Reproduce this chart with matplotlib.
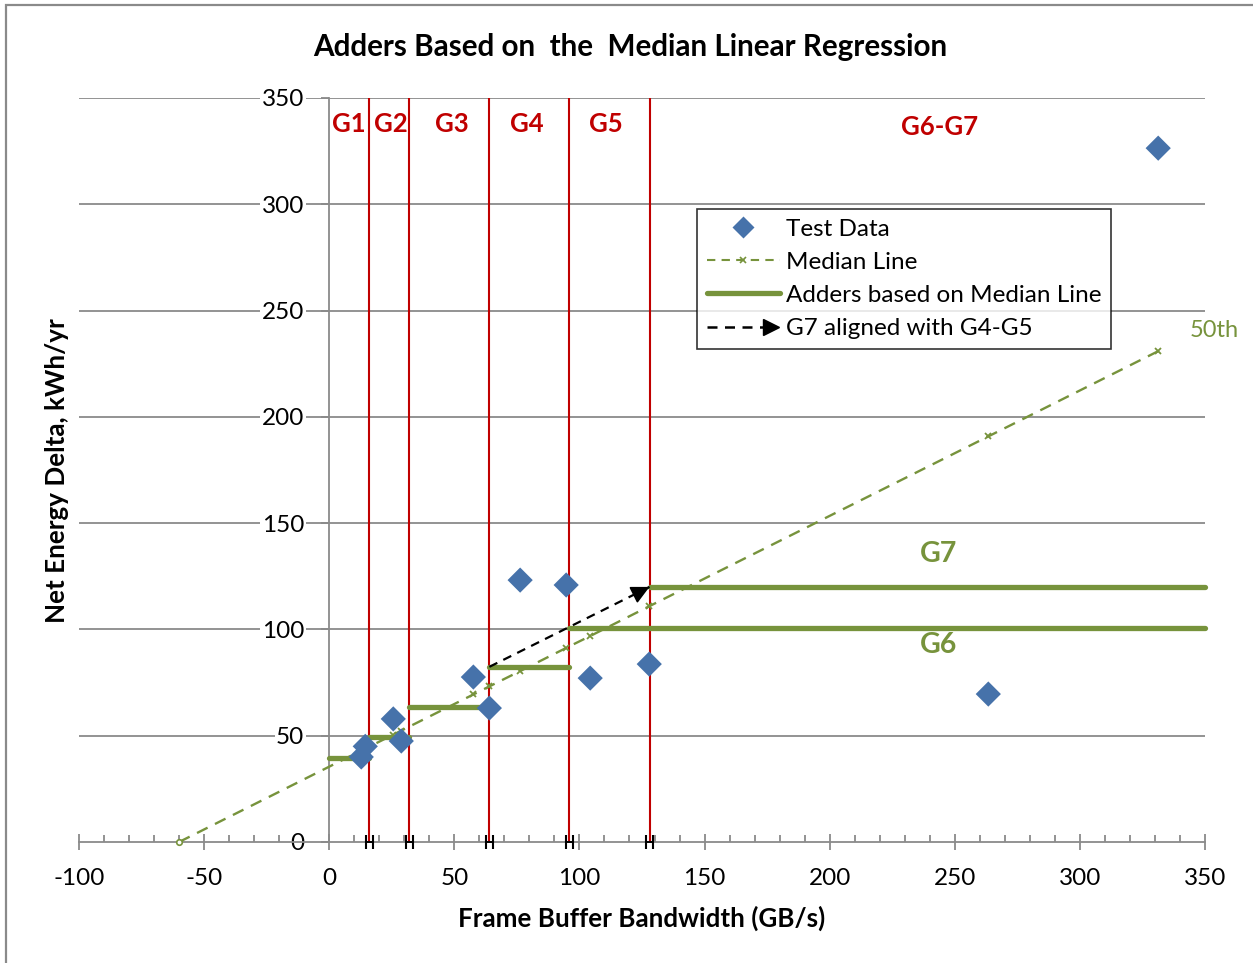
import matplotlib.pyplot as plt
from matplotlib.lines import Line2D
from matplotlib.legend_handler import HandlerBase
from matplotlib.patches import Rectangle
from matplotlib.ticker import MultipleLocator

plt.rcParams['font.family'] = ['Lato', 'DejaVu Sans']
plt.rcParams['axes.unicode_minus'] = False

# test data (GB/s, kWh/yr)
test_x = [12.8, 14.4, 25.6, 28.8, 57.6, 64.0, 76.3, 94.7, 104.3, 127.9, 263.4, 331.3]
test_y = [40.0, 45.0, 57.9, 47.5, 77.6, 63.0, 123.2, 120.9, 77.1, 83.7, 69.6, 326.4]

# median regression line at the test data x values
median_x = [-60.0, 12.8, 14.4, 25.6, 28.8, 57.6, 64.0, 76.3, 94.7, 104.3, 127.9, 263.4, 331.3]
median_y = [0.0, 43.0, 43.9, 50.5, 52.4, 69.4, 73.2, 80.4, 91.3, 96.9, 110.9, 190.8, 230.9]

# adders per group
adder_start = [0, 16, 32, 64, 96, 128]
adder_end = [16, 32, 64, 96, 350, 350]
adder_val = [39.5, 49.2, 63.3, 82.4, 100.8, 120.0]

# G7 aligned with G4-G5
arrow_x = [64, 128]
arrow_y = [82.4, 120.0]

# group boundaries and labels
bounds = [16, 32, 64, 96, 128]
group_names = ['G1', 'G2', 'G3', 'G4', 'G5', 'G6-G7']
group_x = [8, 24.5, 49, 79, 110.5, 244]
group_y = [338, 338, 338, 338, 338, 336.5]

blue = '#4672AA'
green = '#77933C'
red = '#C00000'
gray = '#8A8A8A'


class ArrowHandler(HandlerBase):
    def create_artists(self, legend, orig_handle, xdescent, ydescent,
                       width, height, fontsize, trans):
        y = height / 2 - ydescent
        x0 = -xdescent
        x1 = width - xdescent
        line = Line2D([x0, x1 - 10], [y, y], color='black', ls=(0, (4, 3)),
                      lw=1.8, transform=trans)
        head = Line2D([x1 - 6], [y], marker='>', color='black', ms=11,
                      ls='none', transform=trans)
        return [line, head]


fig = plt.figure(figsize=(12.53, 9.63), dpi=100)
ax = fig.add_axes([0.06305, 0.12565, 0.89864, 0.77259])

# outer chart border
fig.patches.append(Rectangle((6 / 1253, -0.1), 1.2, 0.1 + 958 / 963, transform=fig.transFigure,
                             fill=False, edgecolor=gray, lw=1.6))

ax.set_xlim(-100, 350)
ax.set_ylim(0, 350)

for y in range(50, 351, 50):
    ax.axhline(y, color=gray, lw=1.3, zorder=1)

for b in bounds:
    ax.plot([b, b], [0, 350], color=red, lw=1.5, zorder=2)

ax.errorbar(bounds, [0] * len(bounds), xerr=1.3, fmt='none', ecolor='black',
            elinewidth=1.4, capsize=5, capthick=1.5, zorder=4, clip_on=False)

ax.plot(median_x, median_y, color=green, ls=(0, (5, 3.5)), lw=1.7, marker='x',
        ms=4.5, mew=1.3, markevery=list(range(1, len(median_x))), zorder=3)
ax.plot(median_x[:1], median_y[:1], ls='none', marker='o', ms=4, mfc='white',
        mec=green, mew=1.2, zorder=3, clip_on=False)

for s, e, v in zip(adder_start, adder_end, adder_val):
    ax.plot([s, e], [v, v], color=green, lw=3.8, solid_capstyle='round',
            zorder=3, clip_on=False)

ax.plot(arrow_x, arrow_y, color='black', ls=(0, (4, 3)), lw=1.6, zorder=4)
ax.annotate('', xy=(arrow_x[1], arrow_y[1]),
            xytext=(arrow_x[1] - 6, arrow_y[1] - 6 * (arrow_y[1] - arrow_y[0]) / (arrow_x[1] - arrow_x[0])),
            arrowprops=dict(arrowstyle='-|>', color='black', lw=1.2,
                            mutation_scale=28, shrinkA=0, shrinkB=0), zorder=5)

ax.scatter(test_x, test_y, marker='D', s=165, color=blue, edgecolors='none', zorder=6)

for name, gx, gy in zip(group_names, group_x, group_y):
    ax.text(gx, gy, name, color=red, fontsize=18.5, fontweight='bold',
            ha='center', va='center')

ax.text(243.5, 135.5, 'G7', color=green, fontsize=20.5, fontweight='bold', ha='center', va='center')
ax.text(243.5, 92.7, 'G6', color=green, fontsize=20.5, fontweight='bold', ha='center', va='center')
ax.text(353.5, 240.5, '50th', color=green, fontsize=17, ha='center', va='center', clip_on=False)

# axes styling
for side in ['top', 'right']:
    ax.spines[side].set_visible(False)
ax.spines['left'].set_position(('data', 0))
ax.spines['left'].set_color(gray)
ax.spines['bottom'].set_color(gray)
ax.spines['left'].set_linewidth(1.3)
ax.spines['bottom'].set_linewidth(1.3)

ax.xaxis.set_major_locator(MultipleLocator(50))
ax.xaxis.set_minor_locator(MultipleLocator(10))
ax.yaxis.set_major_locator(MultipleLocator(50))
ax.tick_params(axis='x', which='major', direction='inout', length=11, width=1.3,
               color=gray, labelsize=17.5, pad=13)
ax.tick_params(axis='x', which='minor', direction='in', length=5, width=1.3, color=gray)
ax.tick_params(axis='y', which='major', direction='out', length=6, width=1.3,
               color=gray, labelsize=17.5, pad=12)
for lbl in ax.get_yticklabels():
    lbl.set_bbox(dict(facecolor='white', edgecolor='none', pad=1))

handles = [
    Line2D([], [], ls='none', marker='D', ms=11, color=blue, mec='none'),
    Line2D([], [], color=green, ls=(0, (4, 3)), lw=1.5, marker='x', ms=4, mew=1.2),
    Line2D([], [], color=green, lw=3.8, solid_capstyle='round'),
    'arrow',
]
labels = ['Test Data', 'Median Line', 'Adders based on Median Line', 'G7 aligned with G4-G5']
leg = ax.legend(handles, labels, loc='upper left', bbox_to_anchor=(0.549, 0.851),
                fontsize=17.5, frameon=True, fancybox=False, edgecolor='black',
                numpoints=1, handlelength=3.0, handletextpad=0.25, labelspacing=0.5,
                borderpad=0.4, borderaxespad=0,
                handler_map={str: ArrowHandler()})
leg.get_frame().set_linewidth(1.2)
leg.set_zorder(7)

fig.text(0.5028, 1 - 47 / 963, 'Adders Based on  the  Median Linear Regression',
         fontsize=21.3, fontweight='bold', ha='center', va='center')
fig.text(0.512, 1 - 918 / 963, 'Frame Buffer Bandwidth (GB/s)',
         fontsize=18.7, fontweight='bold', ha='center', va='center')
fig.text(57 / 1253, 1 - 471 / 963, 'Net Energy Delta, kWh/yr',
         fontsize=18.7, fontweight='bold', ha='center', va='center', rotation=90)

fig.savefig('out.png', dpi=100)
